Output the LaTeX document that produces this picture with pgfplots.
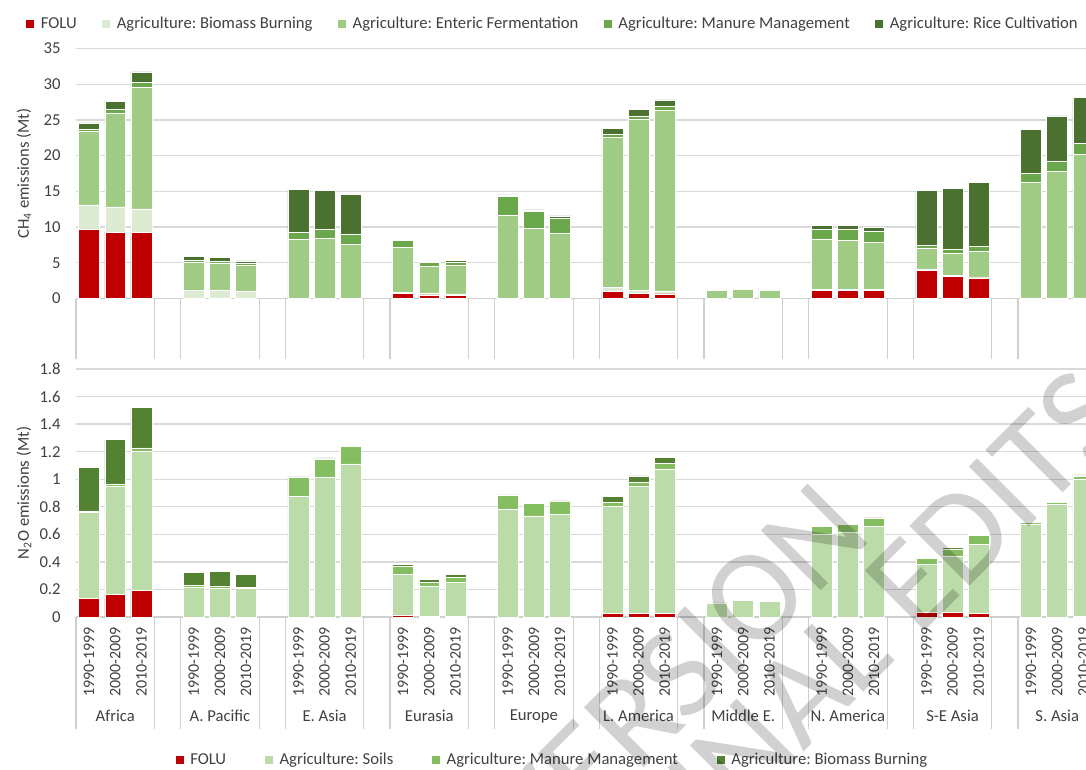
\documentclass[border=0pt]{standalone}
\usepackage{pgfplots}
\pgfplotsset{compat=1.18}
\usepackage{pgfplotstable}
\usepackage{fontspec}
\setmainfont{Carlito}
\frenchspacing

\definecolor{cFOLU}{HTML}{C00000}
\definecolor{cBB}{HTML}{DDEBD3}
\definecolor{cEF}{HTML}{A0CB84}
\definecolor{cMM}{HTML}{6AA84B}
\definecolor{cRC}{HTML}{4B7130}
\definecolor{cSoil}{HTML}{BBDBA8}
\definecolor{cMMn}{HTML}{84BE60}
\definecolor{cBBn}{HTML}{538233}
\definecolor{gridgray}{HTML}{D9D9D9}
\definecolor{sepgray}{HTML}{D0D0D0}
\definecolor{txt}{HTML}{404040}

% CH4 (Mt): x, FOLU, Biomass Burning, Enteric Fermentation, Manure Management, Rice Cultivation
\pgfplotstableread{
x folu bb ef mm rc
0 9.63 3.49 10.23 0.37 0.88
1 9.26 3.58 13.16 0.51 1.07
2 9.26 3.30 17.02 0.65 1.49
4 0 1.12 4.00 0.23 0.51
5 0 1.21 3.77 0.23 0.51
6 0 1.02 3.63 0.23 0.38
8 0 0.05 8.18 1.07 5.96
9 0 0.05 8.37 1.30 5.40
10 0 0.05 7.58 1.30 5.67
12 0.70 0.18 6.33 0.93 0.19
13 0.51 0.28 3.72 0.51 0.14
14 0.47 0.18 4.00 0.47 0.18
16 0 0.02 11.70 2.56 0.23
17 0 0.02 9.84 2.33 0.23
18 0 0.02 9.05 2.19 0.32
20 0.98 0.55 21.03 0.46 0.84
21 0.70 0.46 23.91 0.51 0.89
22 0.65 0.42 25.30 0.61 0.83
24 0 0.02 1.12 0.16 0.12
25 0 0.02 1.26 0.17 0.14
26 0 0.02 1.15 0.16 0.12
28 1.16 0.14 7.03 1.39 0.51
29 1.12 0.14 6.93 1.44 0.56
30 1.12 0.14 6.60 1.58 0.47
32 3.95 0.19 2.93 0.42 7.63
33 3.12 0.14 3.11 0.56 8.51
34 2.88 0.14 3.58 0.70 8.93
36 0 0.10 16.13 1.30 6.14
37 0 0.10 17.67 1.49 6.32
38 0 0.10 20.09 1.53 6.47
}\chfour

% N2O (Mt): x, FOLU, Soils, Manure Management, Biomass Burning
\pgfplotstableread{
x folu soil mm bb
0 0.135 0.623 0.013 0.314
1 0.162 0.790 0.014 0.324
2 0.191 1.009 0.027 0.297
4 0 0.217 0.010 0.099
5 0 0.210 0.010 0.111
6 0 0.205 0.008 0.099
8 0 0.877 0.135 0.005
9 0 1.012 0.135 0.008
10 0 1.111 0.126 0.007
12 0.010 0.302 0.055 0.017
13 0.005 0.215 0.034 0.019
14 0.005 0.249 0.033 0.020
16 0 0.780 0.106 0.005
17 0 0.734 0.092 0.005
18 0 0.746 0.092 0.005
20 0.029 0.773 0.029 0.043
21 0.029 0.918 0.029 0.048
22 0.024 1.051 0.039 0.043
24 0 0.100 0.003 0
25 0 0.120 0.006 0
26 0 0.112 0.004 0
28 0 0.604 0.053 0.007
29 0 0.614 0.060 0.007
30 0 0.657 0.058 0.005
32 0.034 0.348 0.041 0.012
33 0.034 0.410 0.051 0.010
34 0.029 0.500 0.063 0.007
36 0 0.676 0.012 0.005
37 0 0.819 0.014 0.008
38 0.005 0.997 0.022 0.007
}\ntwoo

\pgfplotsset{
  common/.style={
    scale only axis, width=757.5pt,
    xmin=-0.5, xmax=38.1, ymin=0,
    clip=false,
    ybar stacked, bar width=0.8,
    axis lines*=left,
    y axis line style={draw=none},
    x axis line style={draw=sepgray, line width=0.8pt},
    ytick style={draw=none}, xtick style={draw=none},
    major tick length=0pt,
    ymajorgrids, grid style={draw=gridgray, line width=1pt},
    yticklabel shift=8pt,
    tick label style={font=\fontsize{12.5}{14}\selectfont, text=txt},
    /pgf/number format/assume math mode=true,
    ylabel style={at={(axis description cs:-0.0515,0.5)}, anchor=center,
      font=\fontsize{12.5}{14}\selectfont, text=txt},
    every axis plot/.append style={draw=white, line width=0.4pt},
    legend image code/.code={\fill[#1,draw=none] (0pt,-3pt) rectangle (6pt,3pt);},
    legend style={draw=none, fill=none, font=\fontsize{12.5}{14}\selectfont,
      text=txt, inner sep=0pt,
      /tikz/every odd column/.append style={column sep=3pt}},
  },
}
\tikzset{reg/.style={font=\fontsize{12.5}{14}\selectfont, text=txt, yshift=-74.25pt}}

\begin{document}
\begin{tikzpicture}
\useasboundingbox (0,0) rectangle (814.5pt,576.75pt);

% ---------- CH4 ----------
\begin{axis}[common,
  at={(57pt,352.875pt)}, anchor=south west, height=187.5pt,
  ymax=35, ytick={0,5,...,35}, xtick=\empty,
  ylabel={CH\textsubscript{4} emissions (Mt)},
  legend columns=5,
  legend style={at={(axis description cs:-0.0495,1.098)}, anchor=west,
    /tikz/every even column/.append style={column sep=17pt}},
]
\addplot[fill=cFOLU] table[x=x,y=folu]{\chfour};
\addplot[fill=cBB] table[x=x,y=bb]{\chfour};
\addplot[fill=cEF] table[x=x,y=ef]{\chfour};
\addplot[fill=cMM] table[x=x,y=mm]{\chfour};
\addplot[fill=cRC] table[x=x,y=rc]{\chfour};
\legend{FOLU, Agriculture: Biomass Burning, Agriculture: Enteric Fermentation, Agriculture: Manure Management, Agriculture: Rice Cultivation}
\pgfplotsinvokeforeach{-0.5,2.5,3.5,6.5,7.5,10.5,11.5,14.5,15.5,18.5,19.5,22.5,23.5,26.5,27.5,30.5,31.5,34.5,35.5}{
  \draw[sepgray, line width=0.8pt] (axis cs:#1,0) -- ([yshift=-45pt]axis cs:#1,0);
}
\end{axis}

% ---------- N2O ----------
\begin{axis}[common,
  at={(57pt,114pt)}, anchor=south west, height=186pt,
  ymax=1.8, ytick={0,0.2,...,1.8},
  yticklabel style={/pgf/number format/fixed},
  xtick={0,1,2,4,5,6,8,9,10,12,13,14,16,17,18,20,21,22,24,25,26,28,29,30,32,33,34,36,37,38},
  xticklabels={1990-1999,2000-2009,2010-2019,1990-1999,2000-2009,2010-2019,1990-1999,2000-2009,2010-2019,1990-1999,2000-2009,2010-2019,1990-1999,2000-2009,2010-2019,1990-1999,2000-2009,2010-2019,1990-1999,2000-2009,2010-2019,1990-1999,2000-2009,2010-2019,1990-1999,2000-2009,2010-2019,1990-1999,2000-2009,2010-2019},
  xticklabel style={rotate=90, anchor=east, font=\fontsize{12}{13}\selectfont},
  xticklabel shift=4pt,
  ylabel={N\textsubscript{2}O emissions (Mt)},
  legend columns=4,
  legend style={at={(axis description cs:0.472,-0.577)}, anchor=center,
    /tikz/every even column/.append style={column sep=27pt}},
]
\addplot[fill=cFOLU] table[x=x,y=folu]{\ntwoo};
\addplot[fill=cSoil] table[x=x,y=soil]{\ntwoo};
\addplot[fill=cMMn] table[x=x,y=mm]{\ntwoo};
\addplot[fill=cBBn] table[x=x,y=bb]{\ntwoo};
\legend{FOLU, Agriculture: Soils, Agriculture: Manure Management, Agriculture: Biomass Burning}
\pgfplotsinvokeforeach{-0.5,2.5,3.5,6.5,7.5,10.5,11.5,14.5,15.5,18.5,19.5,22.5,23.5,26.5,27.5,30.5,31.5,34.5,35.5}{
  \draw[sepgray, line width=0.8pt] (axis cs:#1,0) -- ([yshift=-84pt]axis cs:#1,0);
}
\node[reg] at (axis cs:1,0) {Africa};
\node[reg] at (axis cs:5,0) {A. Pacific};
\node[reg] at (axis cs:9,0) {E. Asia};
\node[reg] at (axis cs:13,0) {Eurasia};
\node[reg] at (axis cs:17,0) {Europe};
\node[reg] at (axis cs:21,0) {L. America};
\node[reg] at (axis cs:25,0) {Middle E.};
\node[reg] at (axis cs:29,0) {N. America};
\node[reg] at (axis cs:33,0) {S-E Asia};
\node[reg] at (axis cs:37,0) {S. Asia};
\end{axis}

% watermark
\node[rotate=45, text=black, opacity=0.18, font=\fontsize{99}{100}\selectfont] at (507.75pt,70.5pt) {VERSION};
\node[rotate=45, text=black, opacity=0.18, font=\fontsize{99}{100}\selectfont] at (656.2pt,110.95pt) {FINAL EDITS};
\end{tikzpicture}
\end{document}
